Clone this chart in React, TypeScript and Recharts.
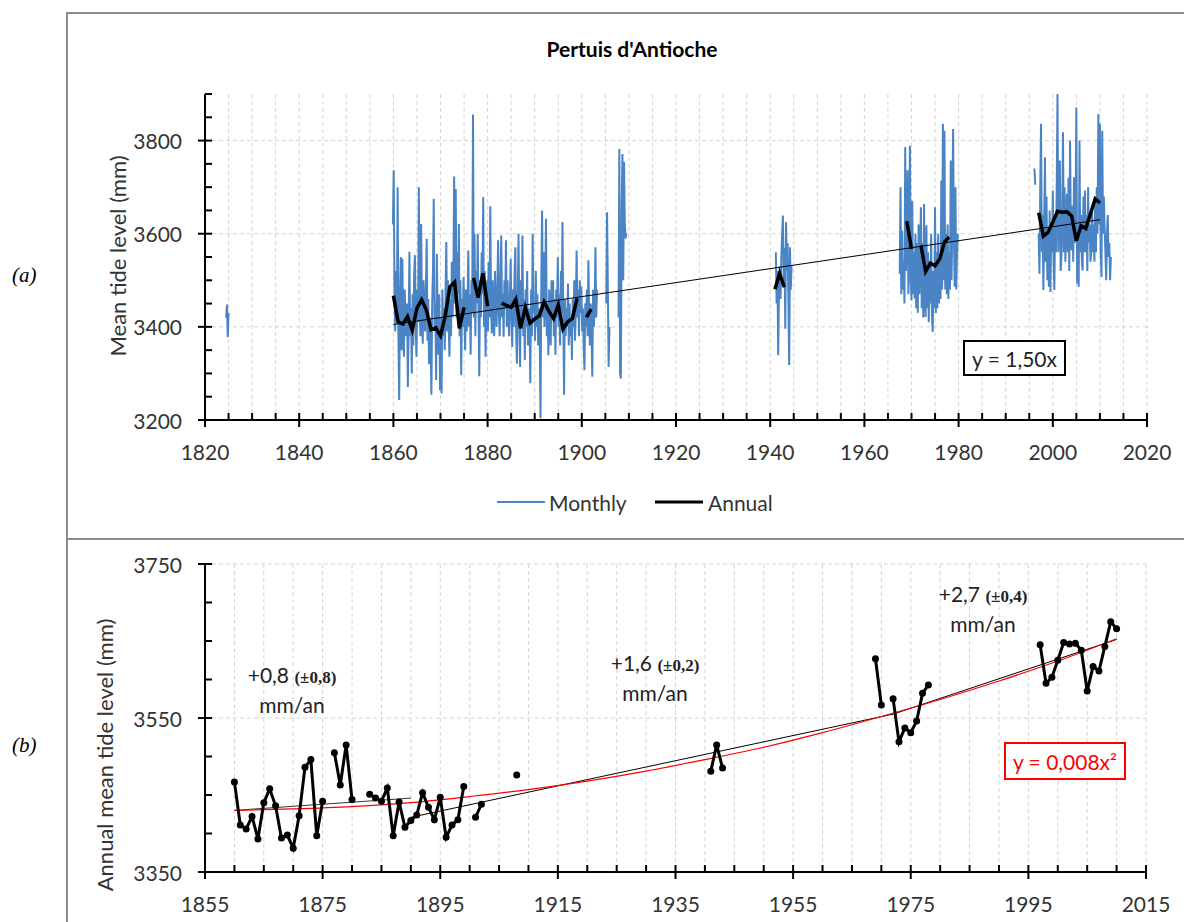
import React from "react";
import { LineChart, Line, XAxis, YAxis, CartesianGrid } from "recharts";

const FONT = "Lato, 'Noto Sans', sans-serif";
const SERIF = "'Liberation Serif', 'DejaVu Serif', serif";
const BLUE = "#4a84c4";
const TEXT = "#333";

// ---- axis ticks ----
const xTicksA = Array.from({ length: 41 }, (_, i) => 1820 + i * 5);
const yTicksA = Array.from({ length: 15 }, (_, i) => 3200 + i * 50);
const xTicksB = Array.from({ length: 33 }, (_, i) => 1855 + i * 5);
const yTicksB = Array.from({ length: 9 }, (_, i) => 3350 + i * 50);
const gridYA = [3400, 3600, 3800];
const gridYB = [3550, 3750];

// ---- monthly means (6 readings per year), each block: start year + values ----
const m1824Start = 1824.5;
const m1824 = [3420, 3448, 3378, 3430];

const m1860Start = 1859.9;
const m1860 = [
  3620, 3736, 3480, 3390, 3520, 3420,
  3700, 3380, 3243, 3460, 3550, 3350,
  3546, 3400, 3336, 3480, 3420, 3380,
  3450, 3271, 3400, 3561, 3380, 3440,
  3300, 3470, 3360, 3510, 3554, 3400,
  3336, 3480, 3410, 3700, 3450, 3380,
  3621, 3420, 3364, 3500, 3440, 3390,
  3480, 3589, 3370, 3460, 3320, 3420,
  3380, 3254, 3450, 3520, 3675, 3400,
  3450, 3286, 3557, 3400, 3340, 3470,
  3264, 3420, 3257, 3480, 3380, 3440,
  3350, 3470, 3582, 3390, 3500, 3400,
  3336, 3460, 3380, 3540, 3420, 3500,
  3723, 3450, 3696, 3420, 3560, 3470,
  3621, 3380, 3500, 3296, 3460, 3400,
  3507, 3420, 3350, 3480, 3390, 3440,
  3564, 3400, 3470, 3340, 3500, 3430,
  3856, 3420, 3600, 3380, 3520, 3450,
  3600, 3440, 3294, 3500, 3420, 3560,
  3470, 3679, 3400, 3520, 3336, 3450,
  3500, 3390, 3540, 3420, 3659, 3440,
  3386, 3500, 3420, 3380, 3520, 3450,
  3400, 3480, 3586, 3430, 3380, 3500,
  3596, 3420, 3470, 3379, 3500, 3440,
  3586, 3400, 3500, 3430, 3380, 3460,
  3546, 3420, 3357, 3480, 3400, 3520,
  3571, 3380, 3321, 3460, 3600, 3420,
  3314, 3500, 3420, 3596, 3380, 3460,
  3329, 3480, 3400, 3520, 3360, 3440,
  3420, 3279, 3480, 3380, 3600, 3430,
  3450, 3370, 3520, 3400, 3470, 3360,
  3440, 3380, 3204, 3500, 3650, 3420,
  3560, 3400, 3480, 3632, 3380, 3450,
  3339, 3480, 3420, 3360, 3500, 3430,
  3500, 3380, 3460, 3340, 3480, 3420,
  3550, 3400, 3470, 3360, 3520, 3430,
  3625, 3420, 3254, 3460, 3380, 3440,
  3400, 3493, 3360, 3450, 3380, 3420,
  3329, 3460, 3400, 3500, 3370, 3440,
  3564, 3420, 3480, 3380, 3500, 3430,
  3486, 3390, 3440, 3360, 3307, 3450,
  3400, 3480, 3380, 3543, 3420, 3360,
  3450, 3380, 3293, 3480, 3400, 3440,
  3571, 3420, 3480,
];

const m1905Start = 1905.2;
const m1905 = [3450, 3646, 3480, 3314, 3400];

const m1908Start = 1907.8;
const m1908 = [3420, 3782, 3300, 3289, 3650, 3771, 3500, 3754, 3620, 3590, 3600];

const m1941Start = 1941.2;
const m1941 = [
  3560, 3450, 3520, 3339, 3480, 3530, 3460, 3550, 3600, 3639, 3500,
  3570, 3396, 3625, 3520, 3580, 3450, 3318, 3571, 3480, 3530,
];

const m1967Start = 1967.5;
const m1967 = [
  3514, 3700, 3470,
  3607, 3480, 3540, 3450, 3786, 3520,
  3640, 3736, 3470, 3560, 3789, 3500,
  3457, 3671, 3470, 3560, 3461, 3600,
  3440, 3580, 3430, 3620, 3470, 3560,
  3657, 3440, 3580, 3420, 3664, 3460,
  3421, 3618, 3440, 3560, 3410, 3540,
  3450, 3600, 3430, 3389, 3520, 3440,
  3657, 3430, 3560, 3440, 3600, 3450,
  3540, 3460, 3714, 3480, 3836, 3500,
  3821, 3480, 3600, 3470, 3620, 3460,
  3560, 3480, 3757, 3500, 3620, 3825,
  3600, 3486, 3700, 3480, 3560, 3600,
];

const m1996Start = 1996.1;
const m1996 = [3740, 3705];

const m1997Start = 1997.0;
const m1997 = [
  3600, 3514, 3700, 3836, 3560, 3640,
  3479, 3620, 3764, 3540, 3680, 3500,
  3600, 3486, 3650, 3475, 3620, 3560,
  3693, 3540, 3479, 3640, 3560, 3700,
  3900, 3560, 3680, 3757, 3520, 3550,
  3640, 3818, 3560, 3700, 3540, 3620,
  3686, 3560, 3720, 3520, 3800, 3600,
  3564, 3660, 3540, 3721, 3580, 3640,
  3871, 3493, 3600, 3486, 3800, 3560,
  3640, 3540, 3521, 3680, 3560, 3693,
  3560, 3640, 3520, 3700, 3580, 3620,
  3540, 3564, 3660, 3560, 3620, 3540,
  3679, 3560, 3700, 3600, 3857, 3620,
  3836, 3560, 3507, 3821, 3600, 3680,
  3614, 3560, 3500, 3600, 3640, 3550,
  3580, 3500, 3550,
];

// ---- annual means, runs of consecutive years ----
const annual1860: [number, number][] = [
  [1860, 3467], [1861, 3411], [1862, 3406], [1863, 3422], [1864, 3393], [1865, 3440],
  [1866, 3458], [1867, 3436], [1868, 3394], [1869, 3398], [1870, 3381], [1871, 3423],
  [1872, 3486], [1873, 3496], [1874, 3397], [1875, 3442],
];
const annual1877: [number, number][] = [[1877, 3505], [1878, 3463], [1879, 3515], [1880, 3444]];
const annual1883: [number, number][] = [
  [1883, 3451], [1884, 3446], [1885, 3442], [1886, 3459], [1887, 3397], [1888, 3441],
  [1889, 3408], [1890, 3417], [1891, 3424], [1892, 3453], [1893, 3434], [1894, 3418],
  [1895, 3447], [1896, 3395], [1897, 3411], [1898, 3418], [1899, 3461],
];
const annual1901: [number, number][] = [[1901, 3421], [1902, 3438]];
const annual1908: [number, number][] = [[1908, 3476]];
const annual1941: [number, number][] = [[1941, 3481], [1942, 3515], [1943, 3485]];
const annual1969: [number, number][] = [[1969, 3627], [1970, 3567]];
const annual1972: [number, number][] = [
  [1972, 3575], [1973, 3519], [1974, 3537], [1975, 3531], [1976, 3546], [1977, 3582], [1978, 3593],
];
const annual1997: [number, number][] = [
  [1997, 3645], [1998, 3595], [1999, 3603], [2000, 3625], [2001, 3648], [2002, 3646],
  [2003, 3647], [2004, 3638], [2005, 3585], [2006, 3617], [2007, 3611], [2008, 3643],
  [2009, 3675], [2010, 3666],
];

// ---- trends ----
const trendA: [number, number][] = [[1860, 3405], [2010, 3630]];
const trendB1: [number, number][] = [[1860, 3430], [1890, 3446]];
const trendB2: [number, number][] = [[1890, 3421], [1972, 3555], [2010, 3652]];
const quadYears = [1860, 1870, 1880, 1890, 1900, 1910, 1920, 1930, 1940, 1950, 1960, 1970, 1980, 1990, 2000, 2010];
const quadValues = [3430, 3432, 3435, 3440, 3448, 3457, 3468, 3481, 3496, 3512, 3531, 3552, 3574, 3598, 3624, 3653];

type Pt = { t: number; v: number | null };

function blocks(list: [number, number[]][]): Pt[] {
  const out: Pt[] = [];
  list.forEach(([start, vals], bi) => {
    vals.forEach((v, i) => out.push({ t: start + i / 6, v }));
    if (bi < list.length - 1) out.push({ t: start + vals.length / 6, v: null });
  });
  return out;
}

function runs(list: [number, number][][]): Pt[] {
  const out: Pt[] = [];
  list.forEach((r, bi) => {
    r.forEach(([t, v]) => out.push({ t, v }));
    if (bi < list.length - 1) out.push({ t: r[r.length - 1][0] + 0.5, v: null });
  });
  return out;
}

const monthlyData = blocks([
  [m1824Start, m1824], [m1860Start, m1860], [m1905Start, m1905], [m1908Start, m1908],
  [m1941Start, m1941], [m1967Start, m1967], [m1996Start, m1996], [m1997Start, m1997],
]);
const annualRuns = [annual1860, annual1877, annual1883, annual1901, annual1908, annual1941, annual1969, annual1972, annual1997];
const annualData = runs(annualRuns);
const trendAData = runs([trendA]);
const trendB1Data = runs([trendB1]);
const trendB2Data = runs([trendB2]);
const quadData = quadYears.map((t, i) => ({ t, v: quadValues[i] }));

function xTick(base: number) {
  return (props: any) => {
    const { x, y, payload } = props;
    const v = payload.value;
    const major = (v - base) % 20 === 0;
    return (
      <g>
        <line x1={x} x2={x} y1={y - 7} y2={major ? y + 7 : y} stroke="#000" strokeWidth={2} />
        {major && (
          <text x={x} y={y + 31} textAnchor="middle" dominantBaseline="central" fontSize={21} fontFamily={FONT} fill={TEXT}>
            {v}
          </text>
        )}
      </g>
    );
  };
}

function yTick(base: number) {
  return (props: any) => {
    const { x, y, payload } = props;
    const v = payload.value;
    const major = (v - base) % 200 === 0;
    return (
      <g>
        <line x1={major ? x - 7 : x} x2={x + 7} y1={y} y2={y} stroke="#000" strokeWidth={2} />
        {major && (
          <text x={x - 23} y={y} textAnchor="end" dominantBaseline="central" fontSize={21} fontFamily={FONT} fill={TEXT}>
            {v}
          </text>
        )}
      </g>
    );
  };
}

const abs = (s: React.CSSProperties): React.CSSProperties => ({ position: "absolute", ...s });

function VLabel({ x, y, text }: { x: number; y: number; text: string }) {
  return (
    <div style={abs({ left: x, top: y, transform: "translate(-50%, -50%) rotate(-90deg)", whiteSpace: "nowrap", fontSize: 22, color: TEXT, fontFamily: FONT })}>
      {text}
    </div>
  );
}

function Rate({ x, y, rate, err }: { x: number; y: number; rate: string; err: string }) {
  return (
    <div style={abs({ left: x, top: y, transform: "translateX(-50%)", textAlign: "center", color: "#222", fontFamily: FONT, fontSize: 21, lineHeight: "27px", whiteSpace: "nowrap" })}>
      <div>
        {rate} <span style={{ fontFamily: SERIF, fontSize: 17, fontWeight: "bold" }}>{err}</span>
      </div>
      <div>mm/an</div>
    </div>
  );
}

export default function App() {
  return (
    <div style={abs({ left: 0, top: 0, width: 1184, height: 922, background: "#fff", overflow: "hidden", fontFamily: FONT })}>
      <div style={abs({ left: 66, top: 12, width: 1200, height: 528, border: "2px solid #8c8c8c", boxSizing: "border-box" })} />
      <div style={abs({ left: 66, top: 538, width: 1200, height: 500, border: "2px solid #8c8c8c", boxSizing: "border-box" })} />

      <div style={abs({ left: 0, top: 0 })}>
        <LineChart width={1184} height={538} margin={{ top: 94, right: 37, bottom: 78, left: 0 }}>
          <CartesianGrid stroke="#d4d4d4" strokeDasharray="4 3" horizontalValues={gridYA} verticalValues={xTicksA.slice(1)} />
          <XAxis dataKey="t" type="number" domain={[1820, 2020]} ticks={xTicksA} interval={0} height={40}
            tickSize={0} tickMargin={0} tick={xTick(1820)} axisLine={{ stroke: "#000", strokeWidth: 2 }} allowDataOverflow />
          <YAxis type="number" domain={[3200, 3900]} ticks={yTicksA} interval={0} width={205}
            tickSize={0} tickMargin={0} tick={yTick(3200)} axisLine={{ stroke: "#000", strokeWidth: 2 }} allowDataOverflow />
          <Line data={monthlyData} dataKey="v" stroke={BLUE} strokeWidth={2} dot={false} activeDot={false} isAnimationActive={false} connectNulls={false} />
          <Line data={trendAData} dataKey="v" stroke="#000" strokeWidth={1} dot={false} activeDot={false} isAnimationActive={false} />
          <Line data={annualData} dataKey="v" stroke="#000" strokeWidth={3.5} dot={false} activeDot={false} isAnimationActive={false} connectNulls={false} />
        </LineChart>
      </div>

      <div style={abs({ left: 0, top: 538 })}>
        <LineChart width={1184} height={384} margin={{ top: 26, right: 38, bottom: 10, left: 0 }}>
          <CartesianGrid stroke="#d4d4d4" strokeDasharray="4 3" horizontalValues={gridYB} verticalValues={xTicksB.slice(1)} />
          <XAxis dataKey="t" type="number" domain={[1855, 2015]} ticks={xTicksB} interval={0} height={40}
            tickSize={0} tickMargin={0} tick={xTick(1855)} axisLine={{ stroke: "#000", strokeWidth: 2 }} allowDataOverflow />
          <YAxis type="number" domain={[3350, 3750]} ticks={yTicksB} interval={0} width={205}
            tickSize={0} tickMargin={0} tick={yTick(3350)} axisLine={{ stroke: "#000", strokeWidth: 2 }} allowDataOverflow />
          <Line data={trendB1Data} dataKey="v" stroke="#333" strokeWidth={1} dot={false} activeDot={false} isAnimationActive={false} />
          <Line data={trendB2Data} dataKey="v" stroke="#000" strokeWidth={1} dot={false} activeDot={false} isAnimationActive={false} />
          <Line data={quadData} dataKey="v" type="monotone" stroke="#ff0000" strokeWidth={1.2} dot={false} activeDot={false} isAnimationActive={false} />
          <Line data={annualData} dataKey="v" stroke="#000" strokeWidth={3} dot={{ r: 3.5, fill: "#000", stroke: "#000", strokeWidth: 0 }}
            activeDot={false} isAnimationActive={false} connectNulls={false} />
        </LineChart>
      </div>

      {/* panel (a) texts */}
      <div style={abs({ left: 632, top: 48, transform: "translate(-50%, -50%)", fontWeight: "bold", fontSize: 21, color: "#000", whiteSpace: "nowrap" })}>
        Pertuis d'Antioche
      </div>
      <VLabel x={117} y={256} text="Mean tide level (mm)" />
      <div style={abs({ left: 12, top: 275, transform: "translateY(-50%)", fontFamily: SERIF, fontStyle: "italic", fontSize: 21, color: "#000" })}>(a)</div>
      <div style={abs({ left: 963, top: 340, width: 103, height: 36, border: "2px solid #000", boxSizing: "border-box", background: "#fff",
        display: "flex", alignItems: "center", justifyContent: "center", fontSize: 21, color: "#222" })}>
        y = 1,50x
      </div>
      <div style={abs({ left: 497, top: 502, width: 48, height: 0, borderTop: `2px solid ${BLUE}`, transform: "translateY(-1px)" })} />
      <div style={abs({ left: 549, top: 502, transform: "translateY(-50%)", fontSize: 21, color: TEXT })}>Monthly</div>
      <div style={abs({ left: 655, top: 502, width: 48, height: 0, borderTop: "3px solid #000", transform: "translateY(-1.5px)" })} />
      <div style={abs({ left: 708, top: 502, transform: "translateY(-50%)", fontSize: 21, color: TEXT })}>Annual</div>

      {/* panel (b) texts */}
      <VLabel x={104} y={755} text="Annual mean tide level (mm)" />
      <div style={abs({ left: 12, top: 745, transform: "translateY(-50%)", fontFamily: SERIF, fontStyle: "italic", fontSize: 21, color: "#000" })}>(b)</div>
      <Rate x={292} y={661} rate="+0,8" err="(±0,8)" />
      <Rate x={655} y={649} rate="+1,6" err="(±0,2)" />
      <Rate x={983} y={580} rate="+2,7" err="(±0,4)" />
      <div style={abs({ left: 1004, top: 742, width: 122, height: 38, border: "2px solid #ff0000", boxSizing: "border-box", background: "#fff",
        display: "flex", alignItems: "center", justifyContent: "center", fontSize: 21, color: "#ff0000" })}>
        y = 0,008x²
      </div>
    </div>
  );
}
